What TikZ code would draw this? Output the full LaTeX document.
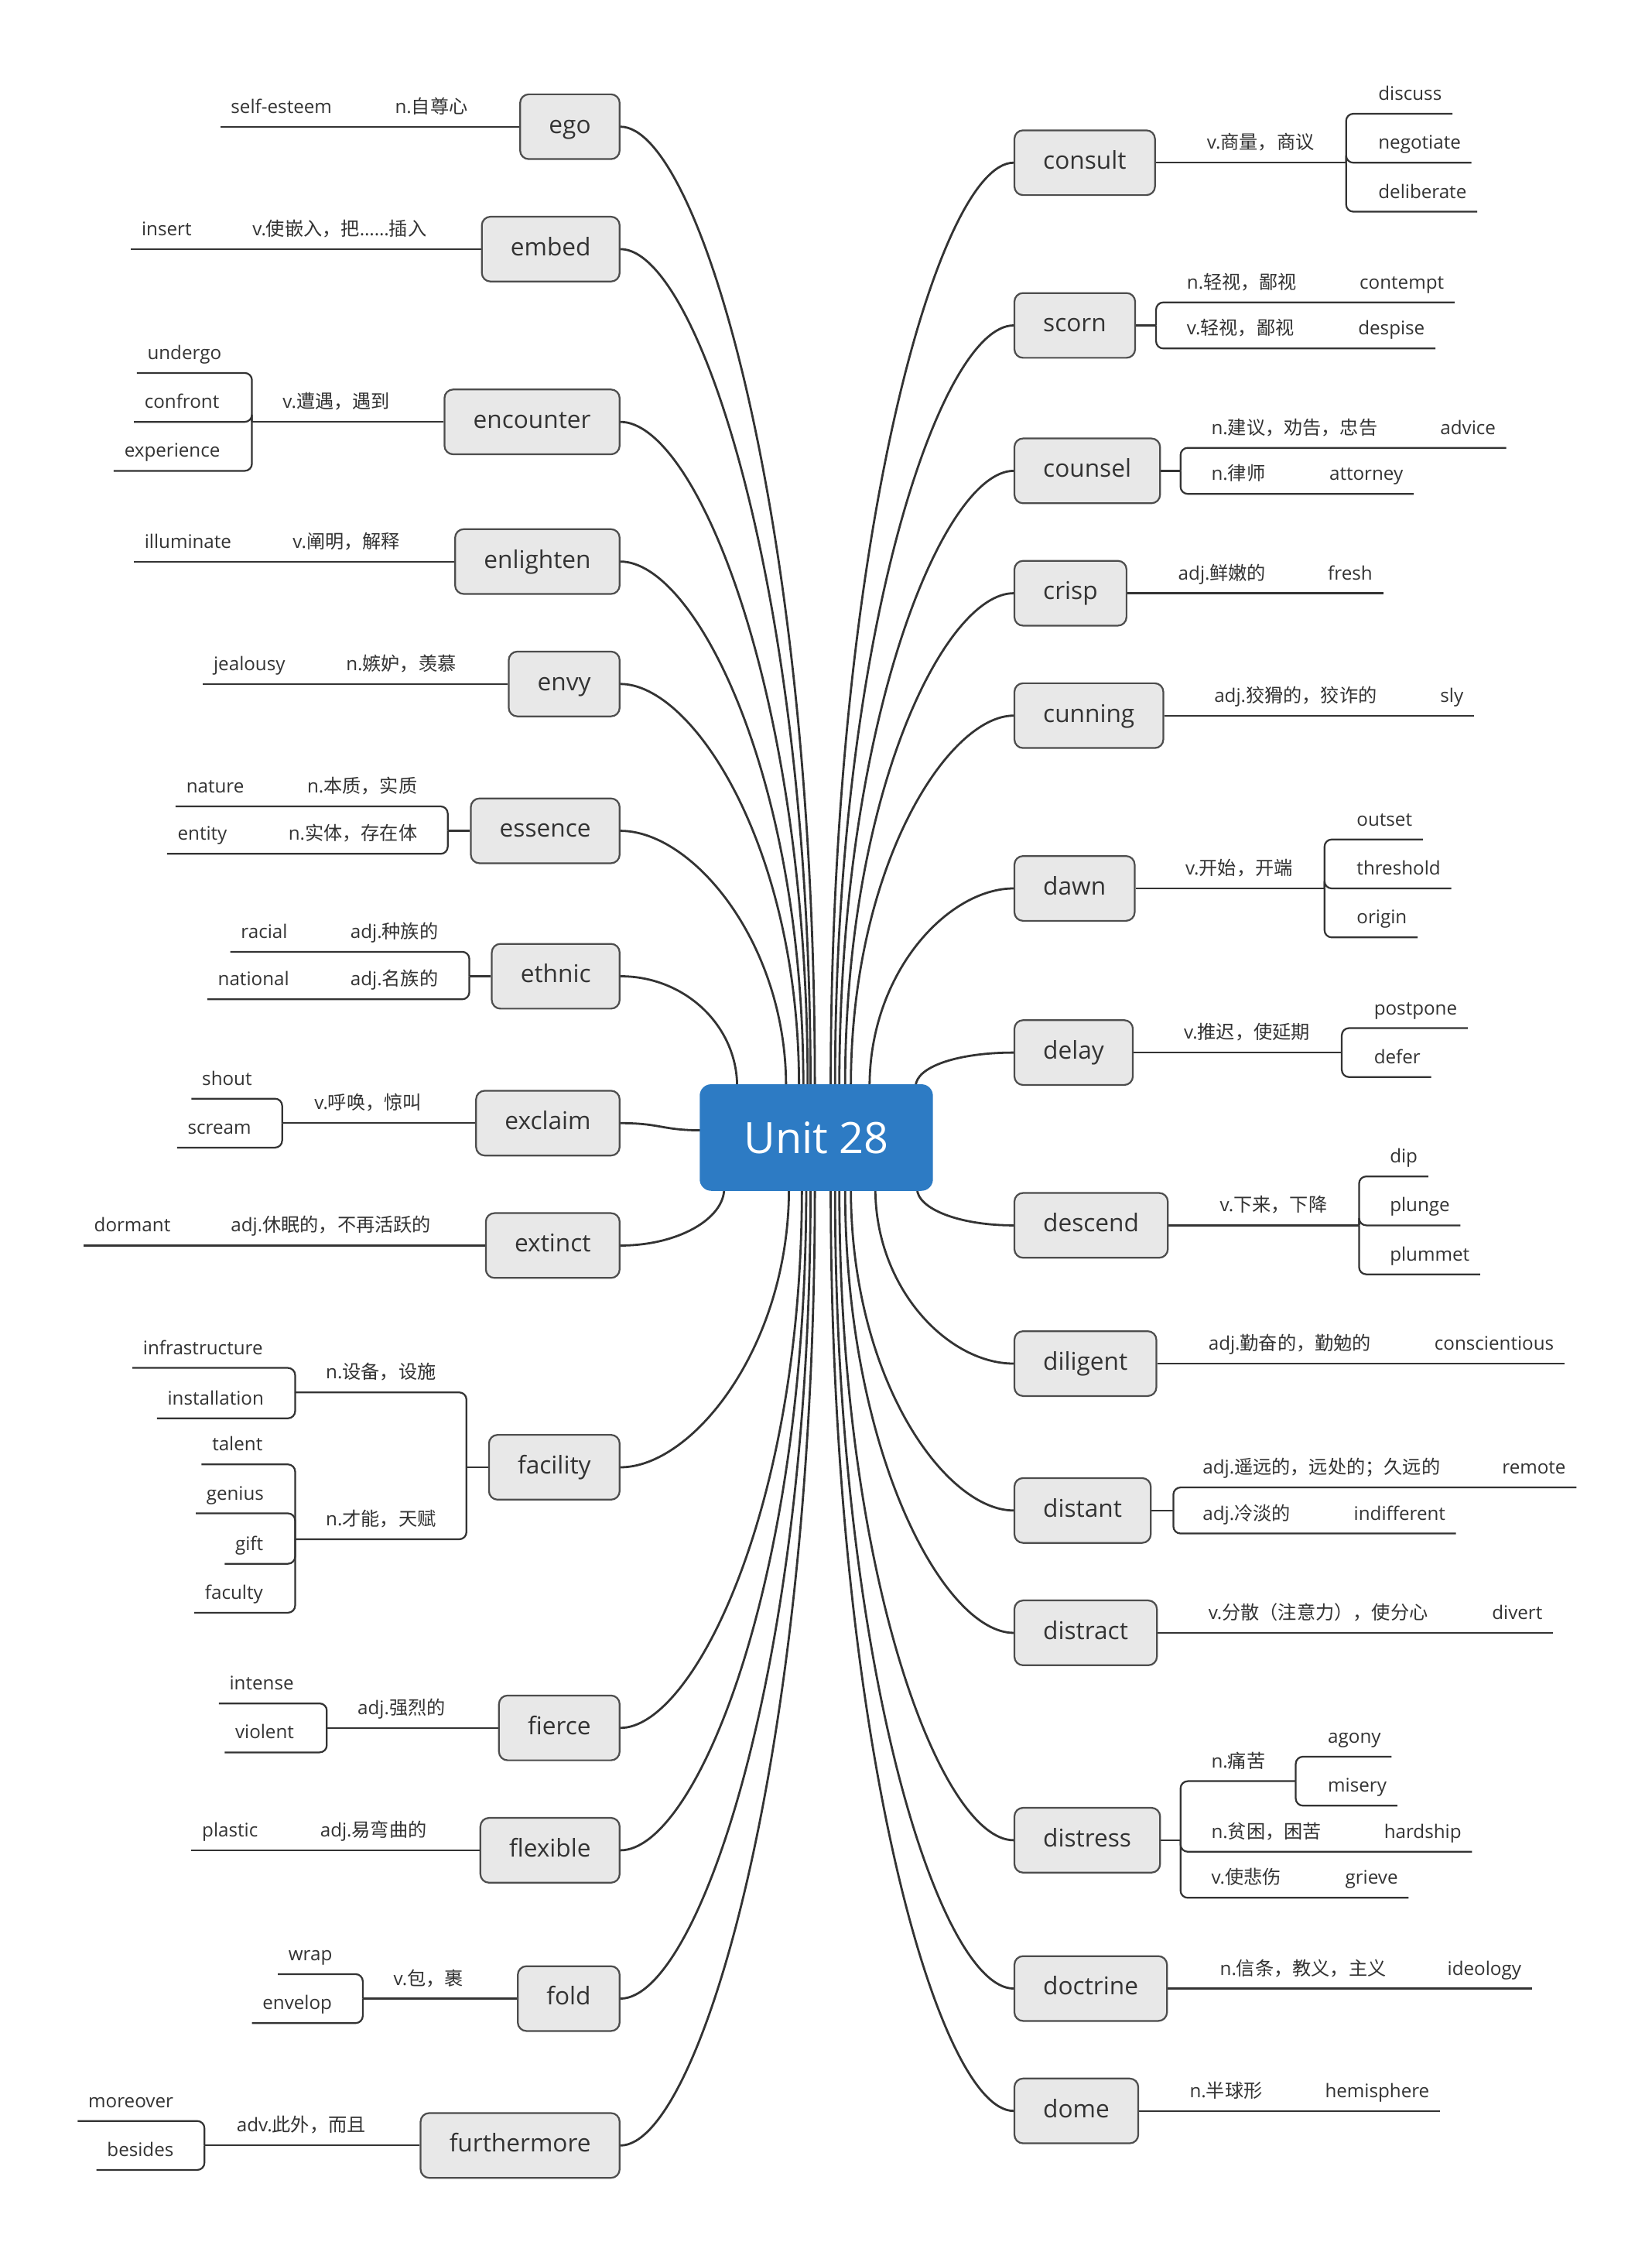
\documentclass[tikz,border=0pt]{standalone}
\usepackage{fontspec}
\setmainfont{Open Sans}
\newfontfamily\cjk{Noto Sans CJK SC}
\newcommand{\cn}[1]{{\cjk #1}}
\usetikzlibrary{calc,backgrounds}
\definecolor{rootblue}{HTML}{2D7BC4}
\definecolor{boxfill}{HTML}{E8E8E8}
\definecolor{boxline}{HTML}{4D4D4D}
\definecolor{linecol}{HTML}{333333}

\begin{document}
\begin{tikzpicture}[x=0.5pt, y=-0.5pt,
	root/.style={fill=rootblue, text=white, rounded corners=4pt, minimum width=81pt, minimum height=37pt, font=\fontsize{15}{18}\selectfont},
	topic/.style={draw=boxline, fill=boxfill, text=linecol, line width=0.6pt, rounded corners=3pt, inner xsep=10pt, minimum height=22.5pt, text height=6.3pt, text depth=1.8pt, font=\fontsize{8.5}{10}\selectfont},
	leaf/.style={anchor=south west, inner xsep=3.5pt, inner ysep=0pt, text height=5pt, text depth=4.5pt, text=linecol, font=\fontsize{6.5}{8}\selectfont},
	branch/.style={draw=linecol, line width=0.75pt},
	twig/.style={draw=linecol, line width=0.6pt, rounded corners=2.5pt}]
			\useasboundingbox (0,0) rectangle (1147,1564);
			
			% ROOT
			\node[root] (root) at (567,790) {Unit 28};
			
			% LEFT TOPICS
			\node[topic, anchor=east] (ego) at (431,88) {ego};
			\node[topic, anchor=east] (embed) at (431,173) {embed};
			\node[topic, anchor=east] (encounter) at (431,293) {encounter};
			\node[topic, anchor=east] (enlighten) at (431,390) {enlighten};
			\node[topic, anchor=east] (envy) at (431,475) {envy};
			\node[topic, anchor=east] (essence) at (431,577) {essence};
			\node[topic, anchor=east] (ethnic) at (431,678) {ethnic};
			\node[topic, anchor=east] (exclaim) at (431,780) {exclaim};
			\node[topic, anchor=east] (extinct) at (431,865) {extinct};
			\node[topic, anchor=east] (facility) at (431,1019) {facility};
			\node[topic, anchor=east] (fierce) at (431,1200) {fierce};
			\node[topic, anchor=east] (flexible) at (431,1285) {flexible};
			\node[topic, anchor=east] (fold) at (431,1388) {fold};
			\node[topic, anchor=east] (furthermore) at (431,1490) {furthermore};
			
			% RIGHT TOPICS
			\node[topic, anchor=west] (consult) at (704,113) {consult};
			\node[topic, anchor=west] (scorn) at (704,226) {scorn};
			\node[topic, anchor=west] (counsel) at (704,327) {counsel};
			\node[topic, anchor=west] (crisp) at (704,412) {crisp};
			\node[topic, anchor=west] (cunning) at (704,497) {cunning};
			\node[topic, anchor=west] (dawn) at (704,617) {dawn};
			\node[topic, anchor=west] (delay) at (704,731) {delay};
			\node[topic, anchor=west] (descend) at (704,851) {descend};
			\node[topic, anchor=west] (diligent) at (704,947) {diligent};
			\node[topic, anchor=west] (distant) at (704,1049) {distant};
			\node[topic, anchor=west] (distract) at (704,1134) {distract};
			\node[topic, anchor=west] (distress) at (704,1278) {distress};
			\node[topic, anchor=west] (doctrine) at (704,1381) {doctrine};
			\node[topic, anchor=west] (dome) at (704,1466) {dome};
			
			% LEFT LEAVES
			\node[leaf] (egoA) at (267,88) {n.\cn{自尊心}};
			\node[leaf] (egoB) at (153,88) {self-esteem};
			\node[leaf] (embA) at (168,173) {v.\cn{使嵌入，把}……\cn{插入}};
			\node[leaf] (embB) at (91,173) {insert};
			\node[leaf] (encA) at (189,293) {v.\cn{遭遇，遇到}};
			\coordinate (encJ) at (175,293);
			\node[leaf] (encB) at (95,259) {undergo};
			\node[leaf] (encC) at (93,293) {confront};
			\node[leaf] (encD) at (79,327) {experience};
			\node[leaf] (enlA) at (196,390) {v.\cn{阐明，解释}};
			\node[leaf] (enlB) at (93,390) {illuminate};
			\node[leaf] (envA) at (233,475) {n.\cn{嫉妒，羡慕}};
			\node[leaf] (envB) at (141,475) {jealousy};
			\coordinate (essJ) at (311,577);
			\node[leaf] (essA) at (206,560) {n.\cn{本质，实质}};
			\node[leaf] (essB) at (122,560) {nature};
			\node[leaf] (essC) at (193,593) {n.\cn{实体，存在体}};
			\node[leaf] (essD) at (116,593) {entity};
			\coordinate (ethJ) at (326,678);
			\node[leaf] (ethA) at (236,661) {adj.\cn{种族的}};
			\node[leaf] (ethB) at (160,661) {racial};
			\node[leaf] (ethC) at (236,694) {adj.\cn{名族的}};
			\node[leaf] (ethD) at (144,694) {national};
			\node[leaf] (excA) at (211,780) {v.\cn{呼唤，惊叫}};
			\coordinate (excJ) at (196,780);
			\node[leaf] (excB) at (133,763) {shout};
			\node[leaf] (excC) at (123,797) {scream};
			\node[leaf] (extA) at (153,865) {adj.\cn{休眠的，不再活跃的}};
			\node[leaf] (extB) at (58,865) {dormant};
			\coordinate (facJ) at (324,1019);
			\node[leaf] (facA) at (219,967) {n.\cn{设备，设施}};
			\coordinate (facK) at (205,967);
			\node[leaf] (facB) at (92,950) {infrastructure};
			\node[leaf] (facC) at (109,985) {installation};
			\node[leaf] (facD) at (219,1069) {n.\cn{才能，天赋}};
			\coordinate (facL) at (205,1069);
			\node[leaf] (facE) at (140,1017) {talent};
			\node[leaf] (facF) at (136,1051) {genius};
			\node[leaf] (facG) at (156,1086) {gift};
			\node[leaf] (facH) at (135,1120) {faculty};
			\node[leaf] (fieA) at (241,1200) {adj.\cn{强烈的}};
			\coordinate (fieJ) at (227,1200);
			\node[leaf] (fieB) at (152,1183) {intense};
			\node[leaf] (fieC) at (156,1217) {violent};
			\node[leaf] (fleA) at (215,1285) {adj.\cn{易弯曲的}};
			\node[leaf] (fleB) at (133,1285) {plastic};
			\node[leaf] (folA) at (266,1388) {v.\cn{包，裹}};
			\coordinate (folJ) at (252,1388);
			\node[leaf] (folB) at (193,1371) {wrap};
			\node[leaf] (folC) at (175,1405) {envelop};
			\node[leaf] (furA) at (157,1490) {adv.\cn{此外，而且}};
			\coordinate (furJ) at (142,1490);
			\node[leaf] (furB) at (54,1473) {moreover};
			\node[leaf] (furC) at (67,1507) {besides};
			
			% RIGHT LEAVES
			\node[leaf] (conA) at (831,113) {v.\cn{商量，商议}};
			\coordinate (conJ) at (935,113);
			\node[leaf] (conB) at (950,79) {discuss};
			\node[leaf] (conC) at (950,113) {negotiate};
			\node[leaf] (conD) at (950,147) {deliberate};
			\coordinate (scoJ) at (803,226);
			\node[leaf] (scoA) at (817,210) {n.\cn{轻视，鄙视}};
			\node[leaf] (scoB) at (937,210) {contempt};
			\node[leaf] (scoC) at (817,242) {v.\cn{轻视，鄙视}};
			\node[leaf] (scoD) at (936,242) {despise};
			\coordinate (couJ) at (820,327);
			\node[leaf] (couA) at (834,311) {n.\cn{建议，劝告，忠告}};
			\node[leaf] (couB) at (993,311) {advice};
			\node[leaf] (couC) at (834,343) {n.\cn{律师}};
			\node[leaf] (couD) at (916,343) {attorney};
			\node[leaf] (criA) at (811,412) {adj.\cn{鲜嫩的}};
			\node[leaf] (criB) at (915,412) {fresh};
			\node[leaf] (cunA) at (836,497) {adj.\cn{狡猾的，狡诈的}};
			\node[leaf] (cunB) at (993,497) {sly};
			\node[leaf] (dawA) at (816,617) {v.\cn{开始，开端}};
			\coordinate (dawJ) at (920,617);
			\node[leaf] (dawB) at (935,583) {outset};
			\node[leaf] (dawC) at (935,617) {threshold};
			\node[leaf] (dawD) at (935,651) {origin};
			\node[leaf] (delA) at (815,731) {v.\cn{推迟，使延期}};
			\coordinate (delJ) at (932,731);
			\node[leaf] (delB) at (947,714) {postpone};
			\node[leaf] (delC) at (947,748) {defer};
			\node[leaf] (desA) at (840,851) {v.\cn{下来，下降}};
			\coordinate (desJ) at (944,851);
			\node[leaf] (desB) at (958,817) {dip};
			\node[leaf] (desC) at (958,851) {plunge};
			\node[leaf] (desD) at (958,885) {plummet};
			\node[leaf] (dilA) at (832,947) {adj.\cn{勤奋的，勤勉的}};
			\node[leaf] (dilB) at (989,947) {conscientious};
			\coordinate (disJ) at (815,1049);
			\node[leaf] (disA) at (828,1033) {adj.\cn{遥远的，远处的；久远的}};
			\node[leaf] (disB) at (1036,1033) {remote};
			\node[leaf] (disC) at (828,1065) {adj.\cn{冷淡的}};
			\node[leaf] (disD) at (933,1065) {indifferent};
			\node[leaf] (dtrA) at (832,1134) {v.\cn{分散（注意力），使分心}};
			\node[leaf] (dtrB) at (1029,1134) {divert};
			\coordinate (dssJ) at (820,1278);
			\node[leaf] (dssA) at (834,1237) {n.\cn{痛苦}};
			\coordinate (dssK) at (900,1237);
			\node[leaf] (dssB) at (915,1220) {agony};
			\node[leaf] (dssC) at (915,1254) {misery};
			\node[leaf] (dssD) at (834,1286) {n.\cn{贫困，困苦}};
			\node[leaf] (dssE) at (954,1286) {hardship};
			\node[leaf] (dssF) at (834,1318) {v.\cn{使悲伤}};
			\node[leaf] (dssG) at (927,1318) {grieve};
			\node[leaf] (docA) at (840,1381) {n.\cn{信条，教义，主义}};
			\node[leaf] (docB) at (998,1381) {ideology};
			\node[leaf] (domA) at (819,1466) {n.\cn{半球形}};
			\node[leaf] (domB) at (913,1466) {hemisphere};
			
			% DRAW LEFT TWIGS
			\draw[twig] (ego.west)--(egoA.south west)--(egoB.south west);
			\draw[twig] (embed.west)--(embA.south west)--(embB.south west);
			\draw[twig] (encounter.west)--(encJ); \draw[twig] (encJ) |- (encB.south west);
			\draw[twig] (encJ) |- (encC.south west); \draw[twig] (encJ) |- (encD.south west);
			\draw[twig] (enlighten.west)--(enlA.south west)--(enlB.south west);
			\draw[twig] (envy.west)--(envA.south west)--(envB.south west);
			\draw[twig] (essence.west)--(essJ); \draw[twig] (essJ) |- (essB.south west);
			\draw[twig] (essJ) |- (essD.south west);
			\draw[twig] (ethnic.west)--(ethJ); \draw[twig] (ethJ) |- (ethB.south west);
			\draw[twig] (ethJ) |- (ethD.south west);
			\draw[twig] (exclaim.west)--(excJ); \draw[twig] (excJ) |- (excB.south west);
			\draw[twig] (excJ) |- (excC.south west);
			\draw[twig] (extinct.west)--(extA.south west)--(extB.south west);
			\draw[twig] (facility.west)--(facJ); \draw[twig] (facJ) |- (facK); \draw[twig] (facJ) |- (facL);
			\draw[twig] (facK) |- (facB.south west); \draw[twig] (facK) |- (facC.south west);
			\draw[twig] (facL) |- (facE.south west); \draw[twig] (facL) |- (facF.south west);
			\draw[twig] (facL) |- (facG.south west); \draw[twig] (facL) |- (facH.south west);
			\draw[twig] (fierce.west)--(fieJ); \draw[twig] (fieJ) |- (fieB.south west);
			\draw[twig] (fieJ) |- (fieC.south west);
			\draw[twig] (flexible.west)--(fleA.south west)--(fleB.south west);
			\draw[twig] (fold.west)--(folJ); \draw[twig] (folJ) |- (folB.south west);
			\draw[twig] (folJ) |- (folC.south west);
			\draw[twig] (furthermore.west)--(furJ); \draw[twig] (furJ) |- (furB.south west);
			\draw[twig] (furJ) |- (furC.south west);
			
			% DRAW RIGHT TWIGS
			\draw[twig] (consult.east)--(conJ); \draw[twig] (conJ) |- (conB.south east);
			\draw[twig] (conJ) |- (conC.south east); \draw[twig] (conJ) |- (conD.south east);
			\draw[twig] (scorn.east)--(scoJ); \draw[twig] (scoJ) |- (scoB.south east);
			\draw[twig] (scoJ) |- (scoD.south east);
			\draw[twig] (counsel.east)--(couJ); \draw[twig] (couJ) |- (couB.south east);
			\draw[twig] (couJ) |- (couD.south east);
			\draw[twig] (crisp.east)--(criA.south east)--(criB.south east);
			\draw[twig] (cunning.east)--(cunA.south east)--(cunB.south east);
			\draw[twig] (dawn.east)--(dawJ); \draw[twig] (dawJ) |- (dawB.south east);
			\draw[twig] (dawJ) |- (dawC.south east); \draw[twig] (dawJ) |- (dawD.south east);
			\draw[twig] (delay.east)--(delJ); \draw[twig] (delJ) |- (delB.south east);
			\draw[twig] (delJ) |- (delC.south east);
			\draw[twig] (descend.east)--(desJ); \draw[twig] (desJ) |- (desB.south east);
			\draw[twig] (desJ) |- (desC.south east); \draw[twig] (desJ) |- (desD.south east);
			\draw[twig] (diligent.east)--(dilA.south east)--(dilB.south east);
			\draw[twig] (distant.east)--(disJ); \draw[twig] (disJ) |- (disB.south east);
			\draw[twig] (disJ) |- (disD.south east);
			\draw[twig] (distract.east)--(dtrA.south east)--(dtrB.south east);
			\draw[twig] (distress.east)--(dssJ); \draw[twig] (dssJ) |- (dssK);
			\draw[twig] (dssK) |- (dssB.south east); \draw[twig] (dssK) |- (dssC.south east);
			\draw[twig] (dssJ) |- (dssE.south east); \draw[twig] (dssJ) |- (dssG.south east);
			\draw[twig] (doctrine.east)--(docA.south east)--(docB.south east);
			\draw[twig] (dome.east)--(domA.south east)--(domB.south east);
			
			% DRAW BRANCHES
			\begin{scope}[on background layer]
			\fill[white] (0,0) rectangle (1147,1564);
			\draw[branch] (ego.east) .. controls +(54,0) and +(0,-399) .. ($(root.north)+(-1,2)$);
			\draw[branch] (embed.east) .. controls +(53,0) and +(0,-348) .. ($(root.north)+(-4,2)$);
			\draw[branch] (encounter.east) .. controls +(52,0) and +(0,-276) .. ($(root.north)+(-6,2)$);
			\draw[branch] (enlighten.east) .. controls +(51,0) and +(0,-218) .. ($(root.north)+(-9,2)$);
			\draw[branch] (envy.east) .. controls +(50,0) and +(0,-167) .. ($(root.north)+(-12,2)$);
			\draw[branch] (essence.east) .. controls +(50,0) and +(0,-100) .. ($(root.north)+(-21,2)$);
			\draw[branch] (ethnic.east) .. controls +(45,0) and +(0,-42) .. ($(root.north)+(-55,2)$);
			\draw[branch] (exclaim.east) .. controls +(28,0) and +(-28,0) .. ($(root.west)+(2,-5)$);
			\draw[branch] (extinct.east) .. controls +(40,0) and +(0,21) .. ($(root.south)+(-64,-2)$);
			\draw[branch] (facility.east) .. controls +(50,0) and +(0,110) .. ($(root.south)+(-19,-2)$);
			\draw[branch] (fierce.east) .. controls +(50,0) and +(0,224) .. ($(root.south)+(-10,-2)$);
			\draw[branch] (flexible.east) .. controls +(52,0) and +(0,275) .. ($(root.south)+(-7,-2)$);
			\draw[branch] (fold.east) .. controls +(53,0) and +(0,337) .. ($(root.south)+(-4,-2)$);
			\draw[branch] (furthermore.east) .. controls +(54,0) and +(0,398) .. ($(root.south)+(-1,-2)$);
			\draw[branch] (consult.west) .. controls +(-51,0) and +(0,-384) .. ($(root.north)+(10,2)$);
			\draw[branch] (scorn.west) .. controls +(-50,0) and +(0,-316) .. ($(root.north)+(13,2)$);
			\draw[branch] (counsel.west) .. controls +(-48,0) and +(0,-256) .. ($(root.north)+(16,2)$);
			\draw[branch] (crisp.west) .. controls +(-47,0) and +(0,-205) .. ($(root.north)+(20,2)$);
			\draw[branch] (cunning.west) .. controls +(-45,0) and +(0,-154) .. ($(root.north)+(24,2)$);
			\draw[branch] (dawn.west) .. controls +(-45,0) and +(0,-80) .. ($(root.north)+(37,2)$);
			\draw[branch] (delay.west) .. controls +(-38,0) and +(0,-14) .. ($(root.north)+(69,2)$);
			\draw[branch] (descend.west) .. controls +(-38,0) and +(0,14) .. ($(root.south)+(70,-2)$);
			\draw[branch] (diligent.west) .. controls +(-45,0) and +(0,70) .. ($(root.south)+(41,-2)$);
			\draw[branch] (distant.west) .. controls +(-47,0) and +(0,133) .. ($(root.south)+(24,-2)$);
			\draw[branch] (distract.west) .. controls +(-48,0) and +(0,184) .. ($(root.south)+(20,-2)$);
			\draw[branch] (distress.west) .. controls +(-50,0) and +(0,270) .. ($(root.south)+(16,-2)$);
			\draw[branch] (doctrine.west) .. controls +(-51,0) and +(0,332) .. ($(root.south)+(13,-2)$);
			\draw[branch] (dome.west) .. controls +(-52,0) and +(0,383) .. ($(root.south)+(10,-2)$);
			\end{scope}
		\end{tikzpicture}
\end{document}
